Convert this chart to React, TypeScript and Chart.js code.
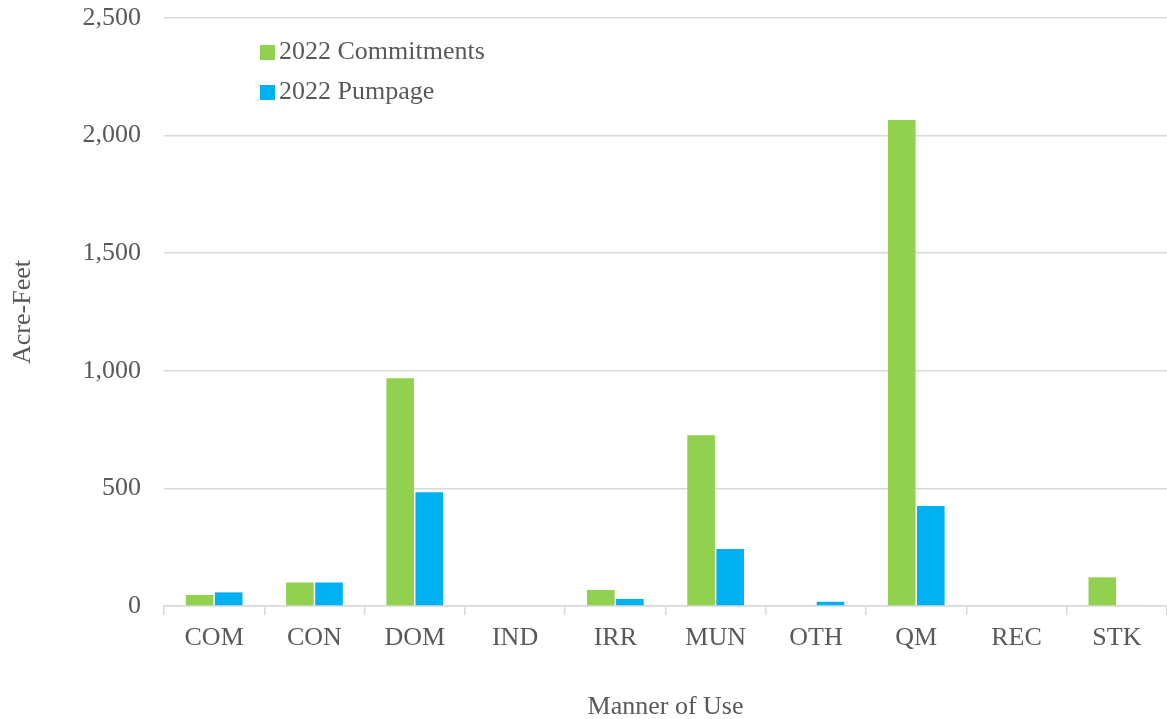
import React, { useEffect, useRef } from "react";
import { Chart, registerables } from "chart.js";

Chart.register(...registerables);

const categories = ["COM", "CON", "DOM", "IND", "IRR", "MUN", "OTH", "QM", "REC", "STK"];
const commitments = [47, 100, 968, 0, 68, 726, 0, 2066, 0, 122];
const pumpage = [58, 100, 484, 0, 30, 242, 18, 425, 0, 3];
const seriesNames = ["2022 Commitments", "2022 Pumpage"];
const seriesColors = ["#92D050", "#00B0F0"];
const yTicks = [0, 500, 1000, 1500, 2000, 2500];

const FONT = "'Liberation Serif', 'Times New Roman', serif";
const TEXT = "#595959";
const FS = 26;

const legendPlugin = {
  id: "insideLegend",
  afterDraw(chart: any) {
    const ctx = chart.ctx;
    ctx.save();
    ctx.font = `${FS}px ${FONT}`;
    ctx.textBaseline = "middle";
    ctx.textAlign = "left";
    const x = 260;
    const ys = [52, 92];
    seriesNames.forEach((name, i) => {
      ctx.fillStyle = seriesColors[i];
      ctx.fillRect(x, ys[i] - 7, 15, 15);
      ctx.fillStyle = TEXT;
      ctx.fillText(name, x + 19, ys[i]);
    });
    ctx.restore();
  },
};

export default function App() {
  const ref = useRef<HTMLCanvasElement>(null);
  useEffect(() => {
    document.body.style.margin = "0";
    const chart = new Chart(ref.current!, {
      type: "bar",
      data: {
        labels: categories,
        datasets: [
          {
            label: seriesNames[0],
            data: commitments,
            backgroundColor: seriesColors[0],
            borderWidth: 0,
            categoryPercentage: 0.58,
            barPercentage: 0.95,
          },
          {
            label: seriesNames[1],
            data: pumpage,
            backgroundColor: seriesColors[1],
            borderWidth: 0,
            categoryPercentage: 0.58,
            barPercentage: 0.95,
          },
        ],
      },
      options: {
        responsive: false,
        animation: false,
        layout: { padding: { top: 18, right: 0, left: 0, bottom: 0 } },
        plugins: {
          legend: { display: false },
          tooltip: { enabled: false },
        },
        scales: {
          x: {
            grid: {
              offset: true,
              drawOnChartArea: false,
              drawTicks: true,
              tickLength: 9,
              color: "#d9d9d9",
              lineWidth: 1.5,
            },
            border: { display: true, color: "#d9d9d9", width: 1.5 },
            ticks: {
              font: { family: FONT, size: FS },
              color: TEXT,
              padding: 8,
              maxRotation: 0,
            },
            title: {
              display: true,
              text: "Manner of Use",
              font: { family: FONT, size: FS },
              color: TEXT,
              padding: { top: 0, bottom: -4 },
            },
            afterFit(scale: any) {
              scale.height = 113;
              scale.paddingLeft = 0;
              scale.paddingRight = 0;
            },
          },
          y: {
            min: 0,
            max: 2500,
            afterBuildTicks(scale: any) {
              scale.ticks = yTicks.map((v) => ({ value: v }));
            },
            grid: { color: "#d9d9d9", lineWidth: 1.5, drawTicks: false },
            border: { display: false },
            ticks: {
              font: { family: FONT, size: FS },
              color: TEXT,
              padding: 23,
              callback: (v: any) => Number(v).toLocaleString("en-US"),
            },
            title: {
              display: true,
              text: "Acre-Feet",
              font: { family: FONT, size: FS },
              color: TEXT,
              padding: { top: 8, bottom: 0 },
            },
            afterFit(scale: any) {
              scale.width = 164;
              scale.paddingTop = 0;
              scale.paddingBottom = 0;
            },
          },
        },
      },
      plugins: [legendPlugin],
    });
    return () => chart.destroy();
  }, []);
  return (
    <div style={{ position: "absolute", left: 0, top: 0, width: 1167, height: 719 }}>
      <canvas ref={ref} width={1167} height={719} />
    </div>
  );
}
